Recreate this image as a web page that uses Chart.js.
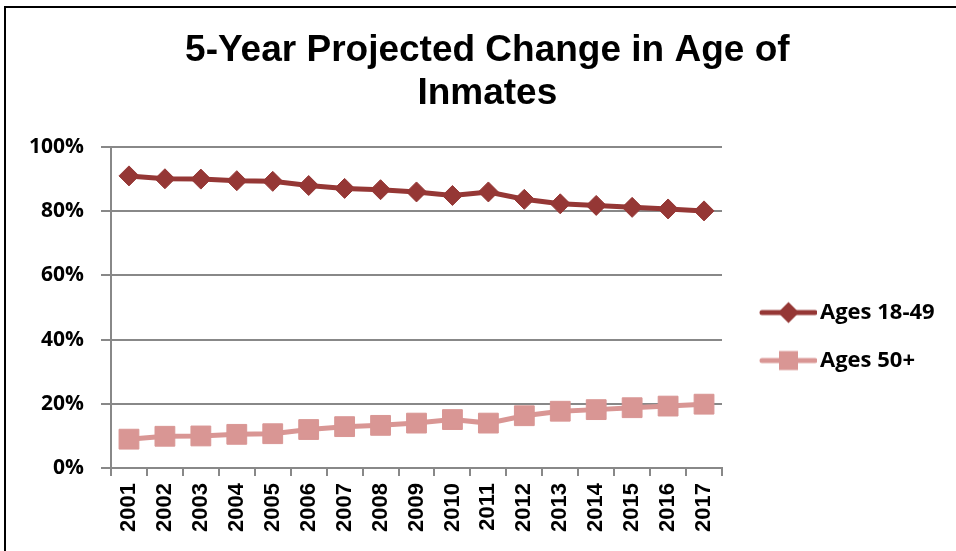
<!DOCTYPE html>
<html><head><meta charset="utf-8">
<script src="https://cdn.jsdelivr.net/npm/chart.js@4.4.1/dist/chart.umd.min.js"></script>
<style>
html,body{margin:0;padding:0;background:#fff;}
#wrap{position:relative;width:956px;height:551px;overflow:hidden;background:#fff;}
#frame{position:absolute;left:4px;top:6px;width:1000px;height:600px;border-left:2px solid #000;border-top:2px solid #000;}
canvas{position:absolute;left:0;top:0;}
</style></head><body>
<div id="wrap"><div id="frame"></div><canvas id="c" width="956" height="551"></canvas></div>
<script>
const titleLines = ['5-Year Projected Change in Age of', 'Inmates'];
const years = ['2001','2002','2003','2004','2005','2006','2007','2008','2009','2010','2011','2012','2013','2014','2015','2016','2017'];
const ages1849 = [91.0, 90.1, 90.0, 89.5, 89.3, 88.0, 87.1, 86.7, 86.0, 84.9, 86.0, 83.7, 82.3, 81.8, 81.2, 80.7, 80.1];
const ages50 = [9.0, 9.9, 10.0, 10.5, 10.7, 12.0, 12.9, 13.3, 14.0, 15.1, 14.0, 16.3, 17.7, 18.2, 18.8, 19.3, 19.9];
const yTickValues = [0, 20, 40, 60, 80, 100];
const seriesNames = ['Ages 18-49', 'Ages 50+'];
const colors = ['#953735', '#D99694'];

// legend icons: line with marker
function makeIcon(color, kind) {
  const cv = document.createElement('canvas');
  cv.width = 77; cv.height = 24;
  const g = cv.getContext('2d');
  g.strokeStyle = color; g.lineWidth = 5; g.lineCap = 'round';
  g.beginPath(); g.moveTo(22, 12); g.lineTo(75, 12); g.stroke();
  g.fillStyle = color;
  const cx = 48.5, cy = 12;
  g.beginPath();
  if (kind === 'diamond') {
    g.moveTo(cx - 10.5, cy); g.lineTo(cx, cy - 10.5); g.lineTo(cx + 10.5, cy); g.lineTo(cx, cy + 10.5); g.closePath();
  } else {
    g.rect(cx - 9.5, cy - 9.5, 19, 19);
  }
  g.fill();
  return cv;
}
const legendIcons = [makeIcon(colors[0], 'diamond'), makeIcon(colors[1], 'square')];

const legendFontFamily = 'Open Sans';
const mctx = document.createElement('canvas').getContext('2d');
mctx.font = 'bold 22px "' + legendFontFamily + '"';
const textW = Math.max(...seriesNames.map(s => mctx.measureText(s).width));
const legendPad = 26, legendBox = 61;
const legendW = legendPad + legendBox + 11 + textW + 10;
const rightPad = Math.max(0, 956 - 722 - legendW);

new Chart(document.getElementById('c'), {
  type: 'line',
  data: {
    labels: years,
    datasets: [
      { label: seriesNames[0], data: ages1849, borderColor: colors[0], backgroundColor: colors[0],
        borderWidth: 5, pointStyle: 'rectRot', pointRadius: 10, pointHoverRadius: 10,
        pointBorderWidth: 1, pointBackgroundColor: colors[0], pointBorderColor: colors[0], tension: 0 },
      { label: seriesNames[1], data: ages50, borderColor: colors[1], backgroundColor: colors[1],
        borderWidth: 5, pointStyle: 'rect', pointRadius: 14, pointHoverRadius: 14,
        pointBorderWidth: 1, pointBackgroundColor: colors[1], pointBorderColor: colors[1], tension: 0 }
    ]
  },
  options: {
    responsive: false,
    animation: false,
    devicePixelRatio: 1,
    layout: { padding: { left: 30, right: rightPad, top: 0, bottom: 12 } },
    plugins: {
      title: {
        display: true, text: titleLines, color: '#000',
        font: { family: 'Liberation Sans', size: 37, weight: 'bold', lineHeight: 1.162 },
        padding: { top: 29, bottom: 32 }
      },
      legend: {
        display: true, position: 'right', fullSize: false,
        title: { display: true, text: ' ', font: { size: 10, lineHeight: 1.2 }, padding: { top: 46, bottom: 0 } },
        labels: {
          usePointStyle: true, pointStyleWidth: legendBox, padding: legendPad,
          color: '#000', font: { family: legendFontFamily, size: 22, weight: 'bold' },
          generateLabels: (chart) => chart.data.datasets.map((ds, i) => ({
            text: ds.label, fillStyle: ds.backgroundColor, strokeStyle: ds.borderColor,
            lineWidth: 0, pointStyle: legendIcons[i], hidden: false, datasetIndex: i, fontColor: '#000'
          }))
        }
      },
      tooltip: { enabled: false }
    },
    scales: {
      x: {
        type: 'category', offset: true,
        grid: { offset: true, drawOnChartArea: false, drawTicks: true, tickLength: 8, color: '#888', lineWidth: 2 },
        border: { display: true, color: '#888', width: 2 },
        ticks: { autoSkip: false, minRotation: 90, maxRotation: 90, padding: 7, color: '#000',
                 font: { family: 'Liberation Sans', size: 22, weight: 'bold' } }
      },
      y: {
        min: 0, max: 100,
        afterBuildTicks: (scale) => { scale.ticks = yTickValues.map(v => ({ value: v })); },
        afterFit: (scale) => { scale.width = 81; },
        grid: { color: '#888', lineWidth: 2, drawTicks: true, tickLength: 10 },
        border: { display: true, color: '#888', width: 2 },
        ticks: { padding: 17, color: '#000', font: { family: 'Open Sans', size: 21, weight: 'bold' },
                 callback: (v) => v + '%' }
      }
    }
  }
});
</script>
</body></html>
